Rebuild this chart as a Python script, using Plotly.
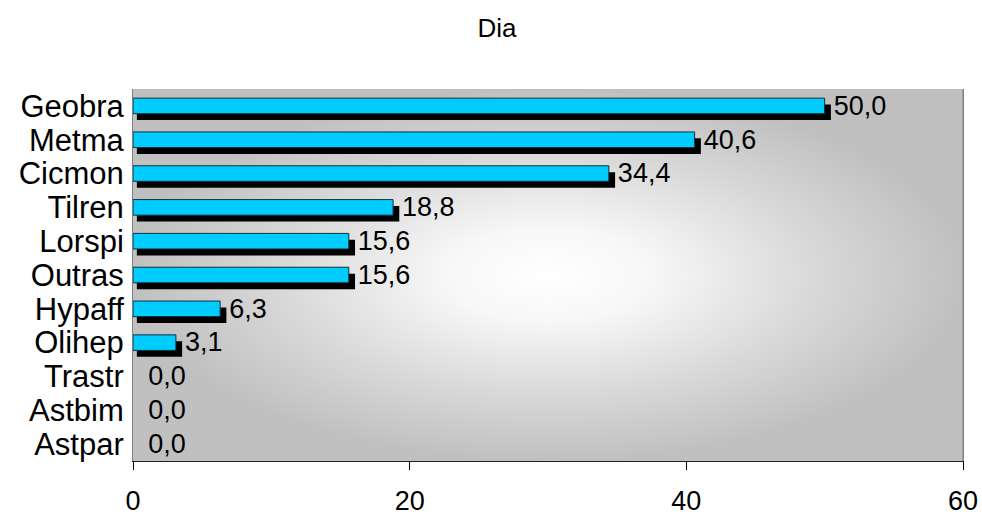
import plotly.graph_objects as go

categories = ["Geobra", "Metma", "Cicmon", "Tilren", "Lorspi", "Outras",
              "Hypaff", "Olihep", "Trastr", "Astbim", "Astpar"]
values = [50.0, 40.6, 34.4, 18.8, 15.6, 15.6, 6.3, 3.1, 0.0, 0.0, 0.0]
x_ticks = [0, 20, 40, 60]
title_text = "Dia"

FONT = "Liberation Sans, Arial, sans-serif"
X_MAX = 60
pos = list(range(len(categories)))
labels = [f"{v:.1f}".replace(".", ",") for v in values]

# shadow geometry (in axis units)
SH_DX0 = 0.28
SH_DX1 = 0.45
BAR_W = 0.46
SH_DY = 0.19

y_lo, y_hi = -0.5, len(categories) - 0.5

fig = go.Figure()

# radial gradient background of plot area (main axes, drawn underneath)
fig.add_trace(go.Scatter(
    x=[0, X_MAX, X_MAX, 0, 0], y=[y_lo, y_lo, y_hi, y_hi, y_lo],
    mode="lines", fill="toself", line=dict(width=0),
    fillgradient=dict(type="radial",
                      colorscale=[[0, "#ffffff"], [0.25, "#f7f7f7"],
                                  [0.65, "#d8d8d8"], [1, "#c0c0c0"]]),
    hoverinfo="skip", showlegend=False, xaxis="x", yaxis="y"))

# shadow bars (overlay axes, drawn above the background)
fig.add_trace(go.Bar(
    y=pos, x=[v + SH_DX1 - SH_DX0 if v > 0 else 0 for v in values],
    base=[SH_DX0 if v > 0 else 0 for v in values],
    orientation="h", width=BAR_W, offset=-BAR_W / 2 + SH_DY,
    marker=dict(color="#000000", line=dict(width=0)),
    hoverinfo="skip", showlegend=False, xaxis="x2", yaxis="y2"))

# main bars
fig.add_trace(go.Bar(
    y=pos, x=values, orientation="h", width=BAR_W, offset=-BAR_W / 2,
    marker=dict(color="#00CCFF",
                line=dict(color="#10303a", width=[1 if v > 0 else 0 for v in values])),
    showlegend=False, xaxis="x2", yaxis="y2"))

# value labels
fig.add_trace(go.Scatter(
    y=[p + 0.06 for p in pos], x=[v + SH_DX1 + 0.2 if v > 0 else 1.1 for v in values],
    mode="text", text=labels, textposition="middle right",
    textfont=dict(family=FONT, size=27, color="#000000"),
    hoverinfo="skip", showlegend=False, cliponaxis=False,
    xaxis="x2", yaxis="y2"))

fig.update_layout(
    width=982, height=516,
    margin=dict(l=133, r=19, t=89, b=55),
    paper_bgcolor="#ffffff", plot_bgcolor="#c0c0c0",
    barmode="overlay",
    title=dict(text=title_text, x=0.506, xanchor="center", y=0.946, yanchor="middle",
               font=dict(family=FONT, size=26, color="#000000")),
    xaxis=dict(range=[0, X_MAX], tickvals=x_ticks, ticks="outside", ticklen=8,
               tickcolor="#000000", showline=True, linecolor="#202020", linewidth=1,
               showgrid=False, zeroline=False, automargin=False, ticklabelstandoff=8,
               tickfont=dict(family=FONT, size=27, color="#000000")),
    yaxis=dict(range=[y_hi, y_lo], tickvals=pos, ticktext=categories,
               ticks="", showline=True, linecolor="#808080", linewidth=1, mirror=True,
               showgrid=False, zeroline=False, ticklabelstandoff=2, automargin=False,
               tickfont=dict(family=FONT, size=31, color="#000000")),
    xaxis2=dict(range=[0, X_MAX], overlaying="x", visible=False, showgrid=False),
    yaxis2=dict(range=[y_hi, y_lo], overlaying="y", visible=False, showgrid=False),
    shapes=[dict(type="line", xref="paper", yref="paper", x0=1, x1=1, y0=0, y1=1,
                 line=dict(color="#808080", width=1))],
)

fig.write_html("out.html")
